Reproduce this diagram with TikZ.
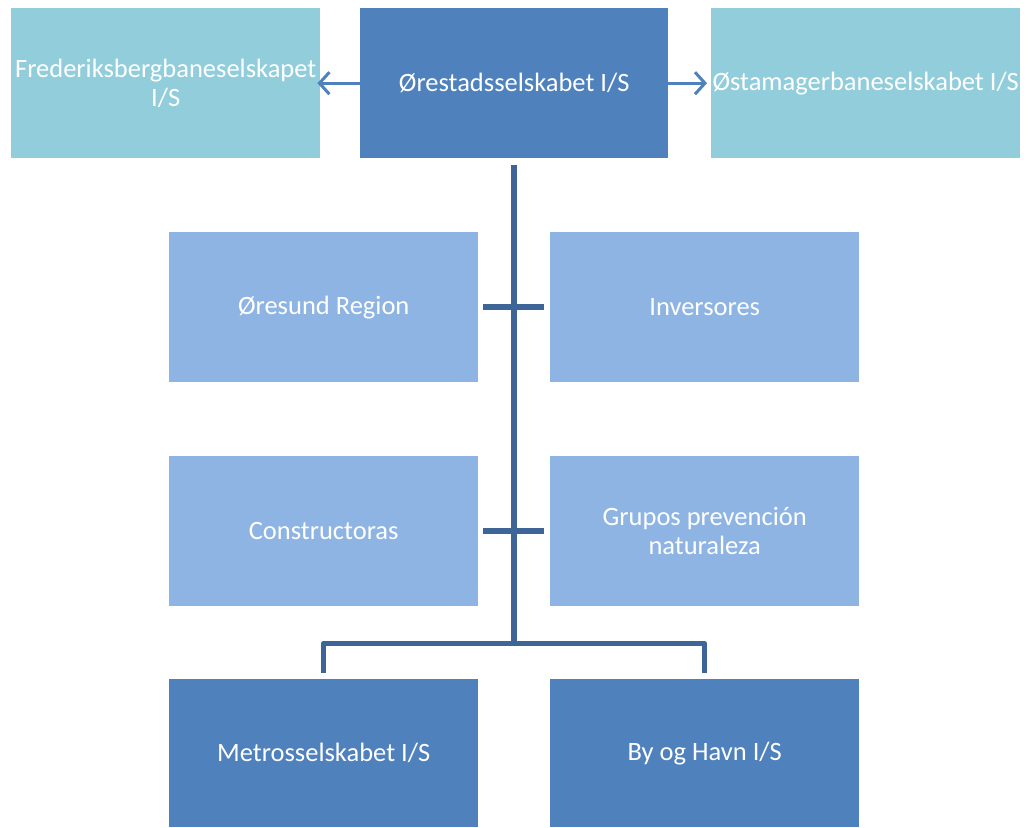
\documentclass[tikz,border=0pt]{standalone}
\usepackage{fontspec}
\setmainfont{Carlito}
\usetikzlibrary{arrows.meta}
\definecolor{teal}{HTML}{92CDDC}
\definecolor{darkblue}{HTML}{4F81BD}
\definecolor{lightblue}{HTML}{8EB4E3}
\definecolor{linecol}{HTML}{3D6597}
\begin{document}
\begin{tikzpicture}[x=1pt,y=-1pt,
  box/.style={draw=none,minimum width=309pt,minimum height=150pt,inner sep=1pt,
    text=white,align=center,font=\fontsize{26.5}{29}\selectfont,anchor=north west},
  tealbox/.style={box,fill=teal},
  darkbox/.style={box,fill=darkblue},
  lightbox/.style={box,fill=lightblue},
  arr/.style={draw=darkblue,line width=3pt,-{Straight Barb[length=10pt,width=22pt,line width=3pt]}},
  conn/.style={draw=linecol,line width=5.5pt}]
\useasboundingbox (0,0) rectangle (1030,827);
\node[tealbox] (fred) at (11,8) {Frederiksbergbaneselskapet\\I/S};
\node[darkbox,minimum width=308pt] (ore) at (360,8) {Ørestadsselskabet I/S};
\node[tealbox] (ost) at (711,8) {Østamagerbaneselskabet I/S};
\node[lightbox] (reg) at (169,232) {Øresund Region};
\node[lightbox] (inv) at (550,232) {Inversores};
\node[lightbox] (con) at (169,456) {Constructoras};
\node[lightbox] (gru) at (550,456) {Grupos prevención\\naturaleza};
\node[darkbox,minimum height=148pt] (met) at (169,679) {Metrosselskabet I/S};
\node[darkbox,minimum height=148pt] (byh) at (550,679) {By og Havn I/S};
\draw[arr] (ore.west) -- ([xshift=-3pt]fred.east);
\draw[arr] (ore.east) -- ([xshift=-4pt]ost.west);
\coordinate (top) at (514,165);
\coordinate (mid) at (514,643.5);
\coordinate (ml) at (323.5,643.5);
\coordinate (mr) at (704.5,643.5);
\coordinate (mlb) at (323.5,673);
\coordinate (mrb) at (704.5,673);
\coordinate (c1l) at (483,307);
\coordinate (c1r) at (544,307);
\coordinate (c2l) at (483,531);
\coordinate (c2r) at (544,531);
\draw[conn] (top) -- (mid);
\draw[conn] (c1l) -- (c1r);
\draw[conn] (c2l) -- (c2r);
\draw[conn,line join=round] (mlb) -- (ml) -- (mr) -- (mrb);
\end{tikzpicture}
\end{document}
